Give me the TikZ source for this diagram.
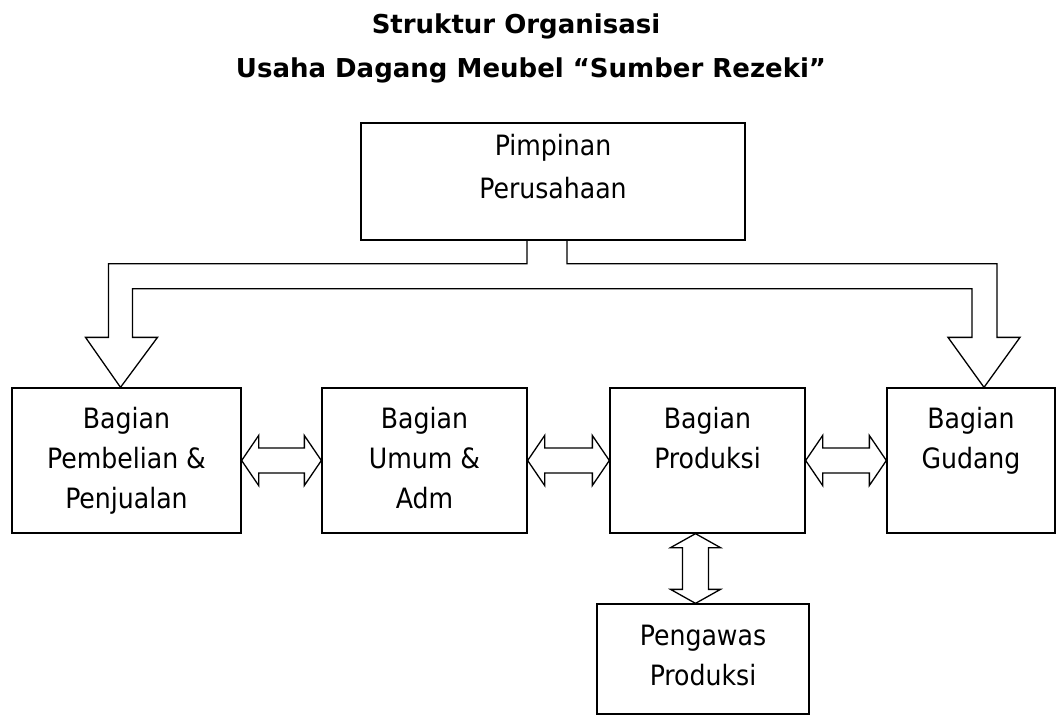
\documentclass[tikz,border=0pt]{standalone}
\usepackage{fontspec}
\usepackage{tikz}
\usetikzlibrary{calc}
\newfontfamily\boxfont{DejaVu Sans Condensed}
\newfontfamily\titlefont{DejaVu Sans}
% hollow double arrow between two boxes side by side
\newcommand{\sidearrow}[2]{%
    \draw[hollow] (#1.east) -- ++(17,-25) -- ++(0,12.5)
        -- ($(#2.west)+(-17,-12.5)$) -- ++(0,-12.5) -- (#2.west)
        -- ++(-17,25) -- ++(0,-12.5) -- ($(#1.east)+(17,12.5)$)
        -- ++(0,12.5) -- cycle;}
% hollow double arrow between two points one above the other
\newcommand{\vertarrow}[2]{%
    \draw[hollow] (#1) -- ++(25,14) -- ++(-12,0)
        -- ($(#2)+(13,-14)$) -- ++(12,0) -- (#2)
        -- ++(-25,-14) -- ++(12,0) -- ($(#1)+(-13,14)$)
        -- ++(-12,0) -- cycle;}

\begin{document}
\begin{tikzpicture}[x=1pt, y=-1pt,
    box/.style={draw, line width=1.3pt, inner sep=0pt, minimum height=145pt},
    txt/.style={font=\boxfont\fontsize{28}{40}\selectfont, align=center, anchor=north, inner sep=0pt},
    title/.style={font=\titlefont\bfseries\fontsize{26}{30}\selectfont, anchor=base, inner sep=0pt},
    hollow/.style={draw, line width=1.3pt, line join=miter}]
\useasboundingbox (0,0) rectangle (1064,720);

% Title
\node[title] (title1) at (516,33) {Struktur Organisasi};
\node[title] (title2) at (531,77) {Usaha Dagang Meubel “Sumber Rezeki”};

% Top box
\node[box, minimum width=384pt, minimum height=117pt] (pimpinan) at (553,181.5) {};
\node[txt] (pimpinan-t) at ([yshift=-12pt]pimpinan.north) {Pimpinan\\[3pt]Perusahaan};

% Row of departments
\node[box, minimum width=229pt] (pembelian) at (126.5,460.5) {};
\node[box, minimum width=205pt] (umum) at (424.5,460.5) {};
\node[box, minimum width=195pt] (produksi) at (707.5,460.5) {};
\node[box, minimum width=168pt] (gudang) at (971,460.5) {};

\node[txt] (pembelian-t) at ([yshift=-20pt]pembelian.north) {Bagian\\Pembelian \&\\Penjualan};
\node[txt] (umum-t) at ([yshift=-20pt]umum.north) {Bagian\\Umum \&\\Adm};
\node[txt] (produksi-t) at ([yshift=-20pt]produksi.north) {Bagian\\Produksi};
\node[txt] (gudang-t) at ([yshift=-20pt]gudang.north) {Bagian\\Gudang};

% Bottom box
\node[box, minimum width=212pt, minimum height=110pt] (pengawas) at (703,659) {};
\node[txt] (pengawas-t) at ([yshift=-22pt]pengawas.north) {Pengawas\\Produksi};

% Split arrow from the top box
\coordinate (stemL) at ([xshift=-26pt]pimpinan.south);
\coordinate (stemR) at ([xshift=14pt]pimpinan.south);
\coordinate (pipe) at ([yshift=-23pt]pimpinan.south);
\coordinate (tipL) at ([xshift=-6pt]pembelian.north);
\coordinate (tipR) at ([xshift=13pt]gudang.north);
\coordinate (pipeL) at (tipL |- pipe);
\coordinate (pipeR) at (tipR |- pipe);
\draw[hollow] (stemL) |- ($(pipeL)+(-12,0)$) -- ($(tipL)+(-12,-50)$) -- ++(-23,0)
    -- (tipL) -- ++(37,-50) -- ++(-25,0) -- ($(pipeL)+(12,25)$)
    -- ($(pipeR)+(-12,25)$) -- ($(tipR)+(-12,-50)$) -- ++(-24,0)
    -- (tipR) -- ++(36,-50) -- ++(-23,0) -- ($(pipeR)+(13,0)$) -| (stemR);

% Links between departments
\sidearrow{pembelian}{umum}
\sidearrow{umum}{produksi}
\sidearrow{produksi}{gudang}

% Link to supervisor
\coordinate (vtop) at ([xshift=-12pt]produksi.south);
\coordinate (vbot) at (vtop |- pengawas.north);
\vertarrow{vtop}{vbot}
\end{tikzpicture}
\end{document}
